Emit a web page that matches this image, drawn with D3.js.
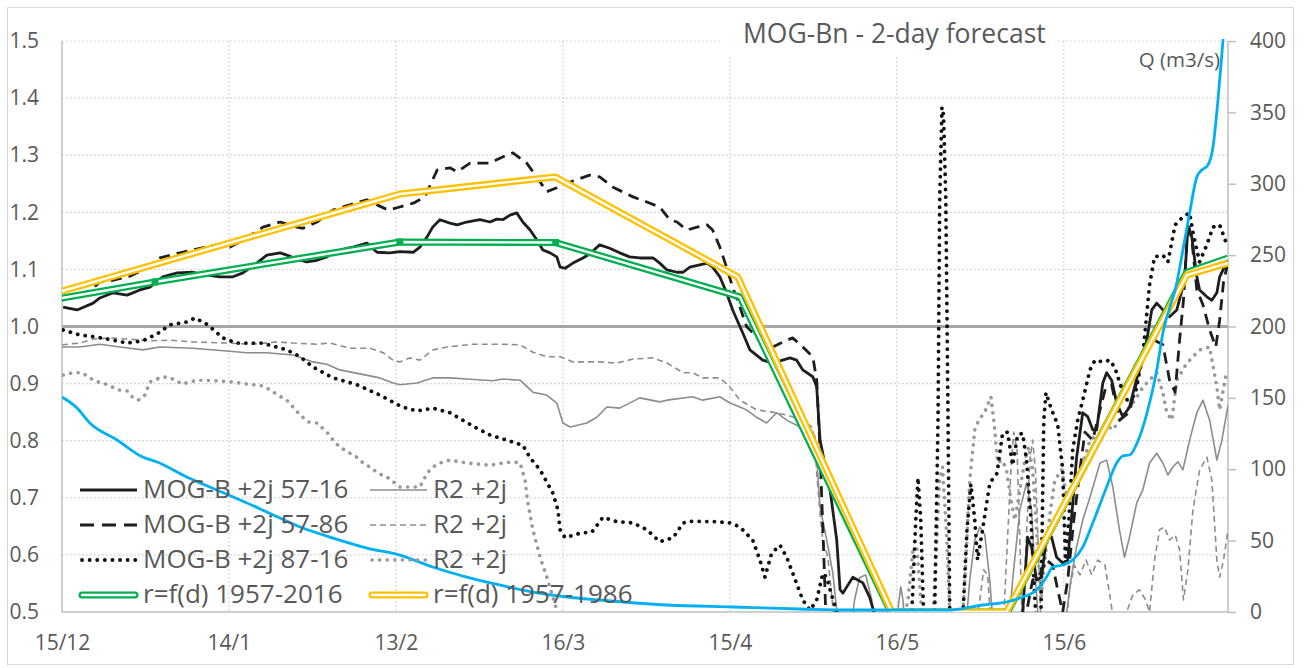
<!DOCTYPE html>
<html><head><meta charset="utf-8">
<script src="https://cdn.jsdelivr.net/npm/d3@7"></script>
<style>
body{margin:0;background:#fff;}
text{font-family:'Open Sans',sans-serif;fill:#595959;}
</style>
</head><body>
<svg id="chart" width="1305" height="668"></svg>
<script>
// ---------- data ----------
const titleText = "MOG-Bn - 2-day forecast";
const rightAxisTitle = "Q (m3/s)";
const xTickDays = [0, 30, 60, 90, 120, 150, 180];
const xTickLabels = ["15/12", "14/1", "13/2", "16/3", "15/4", "16/5", "15/6"];
const leftTicks = [0.5, 0.6, 0.7, 0.8, 0.9, 1.0, 1.1, 1.2, 1.3, 1.4, 1.5];
const rightTicks = [0, 50, 100, 150, 200, 250, 300, 350, 400];
const xDomain = [0, 209.5];

// [day since 15/12, ratio]
const mogB_57_16 = [[0.2,1.034],[2.7,1.029],[5.6,1.041],[6.8,1.050],[9.2,1.059],[11.7,1.055],[14.0,1.064],[15.8,1.069],[18.1,1.087],[20.7,1.094],[23.5,1.095],[26.0,1.090],[28.4,1.087],[30.7,1.087],[32.5,1.094],[35.0,1.111],[36.8,1.125],[39.2,1.129],[40.4,1.125],[42.8,1.116],[44.0,1.113],[45.8,1.116],[47.6,1.122],[48.7,1.130],[51.2,1.137],[52.3,1.139],[54.8,1.146],[56.6,1.130],[58.9,1.129],[60.7,1.131],[63.1,1.130],[64.3,1.139],[65.6,1.157],[66.6,1.174],[67.9,1.187],[69.7,1.181],[71.0,1.178],[72.7,1.183],[75.1,1.187],[76.9,1.183],[78.1,1.188],[79.2,1.187],[80.5,1.195],[81.7,1.199],[82.8,1.183],[84.1,1.169],[85.3,1.152],[86.4,1.134],[87.7,1.129],[88.9,1.122],[89.5,1.104],[90.4,1.102],[91.8,1.111],[93.6,1.120],[94.8,1.127],[96.6,1.143],[98.4,1.137],[100.2,1.129],[102.0,1.122],[103.8,1.120],[106.2,1.120],[107.4,1.111],[108.7,1.099],[110.5,1.095],[111.6,1.095],[112.8,1.104],[114.6,1.108],[115.9,1.111],[116.9,1.104],[118.2,1.087],[119.4,1.059],[120.5,1.029],[121.8,1.0],[122.3,0.989],[123.6,0.959],[125.9,0.941],[127.7,0.936],[130.8,0.945],[132.0,0.941],[133.1,0.924],[134.9,0.912],[135.6,0.894],[136.2,0.801],[138.0,0.714],[139.2,0.626],[139.8,0.539],[140.3,0.533],[141.0,0.544],[142.1,0.561],[143.9,0.551],[145.1,0.526],[146.6,0.477],[148,0.44],[171.5,0.44],[172.6,0.498],[173.5,0.631],[174.2,0.614],[175.1,0.556],[176.0,0.561],[176.9,0.631],[177.8,0.631],[178.7,0.596],[179.8,0.586],[180.7,0.591],[181.4,0.666],[182.3,0.771],[183.4,0.849],[184.3,0.842],[185.2,0.819],[185.9,0.819],[187.0,0.901],[187.7,0.919],[188.6,0.906],[189.5,0.866],[190.6,0.842],[191.8,0.859],[193.4,0.92],[194.9,0.976],[195.8,1.029],[196.7,1.041],[197.8,1.029],[199.0,1.017],[200.3,1.029],[201.7,1.081],[202.3,1.174],[203.0,1.157],[203.9,1.087],[204.4,1.064],[205.7,1.052],[206.6,1.046],[207.5,1.059],[208.0,1.087],[209.3,1.113]];

const mogB_57_86 = [[0,1.046],[2.3,1.053],[5.0,1.062],[6.8,1.078],[9.2,1.081],[12.2,1.088],[14.5,1.099],[17.6,1.120],[21.2,1.129],[24.8,1.137],[27.8,1.143],[30.2,1.139],[33.2,1.155],[36.1,1.174],[39.2,1.183],[42.2,1.174],[43.3,1.172],[45.8,1.183],[48.7,1.204],[51.7,1.213],[54.8,1.222],[56.6,1.213],[58.6,1.204],[60.2,1.208],[63.1,1.216],[65.2,1.227],[67.4,1.274],[69.7,1.278],[71.0,1.271],[73.3,1.286],[76.9,1.286],[78.1,1.292],[79.9,1.300],[81.0,1.304],[83.5,1.286],[85.3,1.262],[87.1,1.236],[88.9,1.243],[91.3,1.253],[94.8,1.265],[96.6,1.262],[99.0,1.244],[102.6,1.227],[105.1,1.218],[107.4,1.209],[109.2,1.187],[110.5,1.183],[112.3,1.169],[114.1,1.174],[115.9,1.178],[116.9,1.169],[118.2,1.139],[119.4,1.104],[120.5,1.069],[121.8,1.034],[123.0,1.0],[124.1,0.989],[125.9,0.982],[127.7,0.964],[130.2,0.976],[131.3,0.980],[133.1,0.964],[134.9,0.947],[135.6,0.906],[136.2,0.784],[136.9,0.591],[137.4,0.451],[143.3,0.416],[168.5,0.416],[172.4,0.451],[173.3,0.5],[174.4,0.556],[175.7,0.565],[176.9,0.591],[178.0,0.582],[178.9,0.539],[179.8,0.5],[180.7,0.556],[181.8,0.661],[182.9,0.749],[183.8,0.815],[185.2,0.801],[186.5,0.854],[187.5,0.892],[188.6,0.897],[190.0,0.836],[191.8,0.850],[193.6,0.924],[194.9,0.959],[196.3,0.976],[197.8,0.968],[199.0,0.906],[200.0,0.885],[200.8,0.976],[201.5,1.046],[202.3,1.183],[203.0,1.152],[203.9,1.064],[205.0,1.038],[206.2,0.994],[207.3,0.964],[208.0,1.011],[208.7,1.078],[209.5,1.113]];

const mogB_87_16 = [[0.2,0.994],[3.2,0.985],[5.9,0.982],[9.2,0.976],[11.7,0.971],[14.5,0.975],[17.1,0.987],[19.4,1.003],[22.5,1.008],[23.9,1.015],[26.2,1.003],[28.9,0.980],[31.4,0.971],[35.9,0.971],[40.4,0.959],[42.8,0.947],[45.1,0.929],[48.7,0.910],[53.0,0.898],[57.1,0.880],[61.1,0.859],[63.8,0.852],[66.6,0.857],[69.7,0.849],[72.0,0.836],[74.5,0.822],[76.9,0.810],[79.9,0.801],[82.8,0.792],[84.1,0.770],[85.9,0.749],[88.2,0.708],[89.1,0.679],[89.5,0.644],[90.4,0.630],[93.1,0.638],[95.2,0.640],[97.2,0.666],[99.7,0.658],[102.6,0.656],[105.1,0.644],[107.4,0.623],[109.8,0.630],[111.6,0.656],[113.3,0.659],[117.7,0.658],[120.0,0.656],[121.8,0.649],[124.1,0.626],[125.4,0.591],[126.3,0.561],[127.5,0.603],[129.0,0.617],[130.2,0.596],[131.3,0.568],[133.1,0.521],[134.4,0.503],[135.6,0.521],[136.7,0.568],[137.4,0.561],[138.0,0.539],[139.2,0.5],[140.6,0.45],[151.4,0.45],[152.7,0.5],[153.4,0.661],[153.8,0.735],[154.3,0.661],[154.8,0.5],[155.9,0.45],[156.8,0.5],[157.4,0.836],[157.7,1.222],[158.1,1.384],[158.4,1.370],[158.8,1.222],[159.2,0.836],[159.5,0.5],[160.4,0.45],[161.9,0.5],[162.6,0.644],[163.3,0.724],[164.0,0.661],[164.5,0.591],[165.4,0.644],[166.7,0.726],[168.0,0.743],[169.0,0.813],[169.9,0.815],[170.8,0.757],[171.7,0.810],[172.6,0.813],[173.3,0.766],[174.1,0.661],[174.8,0.521],[175.3,0.45],[175.9,0.5],[176.4,0.836],[176.8,0.884],[177.8,0.854],[178.9,0.828],[179.8,0.749],[180.3,0.591],[180.9,0.661],[181.6,0.784],[182.5,0.836],[183.4,0.871],[184.7,0.924],[185.6,0.941],[187.0,0.938],[188.3,0.941],[189.2,0.927],[190.2,0.897],[191.4,0.871],[192.8,0.880],[194.2,0.950],[195.4,1.073],[196.3,1.122],[197.8,1.125],[198.7,1.113],[200.0,1.178],[201.4,1.192],[202.6,1.199],[203.3,1.160],[204.4,1.113],[205.7,1.143],[206.8,1.174],[208.0,1.178],[209.3,1.143]];

const r2_a = [[0,0.964],[3.2,0.964],[6.8,0.969],[10.4,0.964],[14.5,0.959],[17.6,0.964],[23.5,0.962],[29.6,0.957],[33.2,0.954],[36.8,0.954],[41.5,0.950],[45.1,0.938],[47.6,0.934],[49.9,0.924],[53.5,0.917],[57.1,0.910],[59.5,0.901],[60.7,0.898],[63.8,0.901],[66.6,0.910],[69.7,0.910],[72.7,0.908],[77.4,0.905],[79.2,0.908],[82.3,0.906],[84.6,0.885],[87.1,0.880],[88.9,0.866],[90.0,0.831],[91.3,0.824],[94.3,0.831],[96.1,0.841],[97.9,0.859],[100.2,0.857],[103.8,0.875],[107.4,0.868],[108.7,0.871],[113.3,0.877],[115.1,0.871],[118.2,0.877],[120.0,0.866],[121.8,0.859],[123.0,0.854],[124.8,0.841],[126.6,0.831],[128.4,0.849],[130.2,0.836],[132.6,0.824],[134.4,0.822],[135.3,0.807],[135.6,0.771],[136.2,0.684],[137.4,0.626],[138.5,0.568],[139.2,0.503],[139.8,0.45],[141.5,0.45],[142.4,0.521],[143.3,0.560],[144.4,0.565],[145.5,0.521],[146.2,0.45],[149.6,0.45],[150.4,0.521],[150.7,0.544],[151.1,0.521],[151.6,0.45],[162.2,0.45],[163.1,0.556],[164.0,0.626],[164.9,0.649],[165.8,0.635],[166.7,0.556],[167.5,0.45],[169.9,0.45],[170.8,0.556],[172.1,0.679],[173.3,0.726],[174.2,0.679],[174.9,0.556],[175.7,0.45],[179.6,0.45],[180.5,0.498],[181.4,0.565],[182.3,0.614],[183.4,0.661],[184.7,0.701],[186.5,0.761],[187.7,0.766],[188.8,0.719],[190.0,0.644],[190.9,0.596],[191.8,0.631],[193.1,0.691],[194.2,0.714],[195.4,0.761],[196.7,0.778],[197.8,0.761],[198.7,0.740],[199.6,0.754],[200.5,0.763],[201.4,0.749],[202.6,0.801],[203.9,0.849],[205.0,0.871],[206.2,0.836],[207.5,0.766],[208.4,0.801],[209.5,0.862]];

const r2_b = [[0,0.968],[3.2,0.971],[5.6,0.978],[8.6,0.980],[11.7,0.978],[15.8,0.975],[19.4,0.976],[23.5,0.973],[29.6,0.971],[34.3,0.969],[38.6,0.973],[41.5,0.971],[45.8,0.969],[48.1,0.971],[51.7,0.962],[55.3,0.962],[57.7,0.954],[59.5,0.941],[60.7,0.938],[62.5,0.945],[64.3,0.941],[66.6,0.959],[69.2,0.964],[73.8,0.969],[78.7,0.969],[82.3,0.968],[84.6,0.955],[87.1,0.947],[89.5,0.947],[91.8,0.938],[96.6,0.938],[99.7,0.936],[102.6,0.943],[106.2,0.945],[108.7,0.936],[111.6,0.919],[113.3,0.919],[115.1,0.910],[118.2,0.910],[120.0,0.894],[121.8,0.871],[124.8,0.854],[127.7,0.850],[130.2,0.845],[133.1,0.836],[134.7,0.824],[135.3,0.801],[135.6,0.743],[136.2,0.673],[136.7,0.626],[137.6,0.596],[138.5,0.509],[139.0,0.45],[164.0,0.45],[164.9,0.521],[165.6,0.574],[166.3,0.565],[167.1,0.45],[169.0,0.45],[169.7,0.591],[170.5,0.749],[171.0,0.815],[171.6,0.784],[172.1,0.626],[172.6,0.45],[173.1,0.591],[173.9,0.766],[174.4,0.801],[174.9,0.749],[175.5,0.591],[176.0,0.45],[180.3,0.45],[181.0,0.539],[181.9,0.582],[182.9,0.565],[184.0,0.591],[185.0,0.565],[186.1,0.591],[187.4,0.582],[188.4,0.521],[189.2,0.468],[190.0,0.45],[191.3,0.5],[192.4,0.530],[193.6,0.539],[194.7,0.521],[195.4,0.5],[196.3,0.591],[197.2,0.644],[198.1,0.649],[199.0,0.626],[200.0,0.635],[200.8,0.609],[201.5,0.521],[202.3,0.574],[203.2,0.679],[204.4,0.749],[205.7,0.771],[206.6,0.731],[207.5,0.591],[208.0,0.561],[208.7,0.591],[209.5,0.644]];

const r2_c = [[0.2,0.915],[2.0,0.919],[3.6,0.919],[5.0,0.910],[6.3,0.903],[7.4,0.901],[9.0,0.894],[10.1,0.889],[11.7,0.887],[12.6,0.877],[13.7,0.871],[14.9,0.880],[15.8,0.903],[17.6,0.910],[19.0,0.912],[20.3,0.906],[21.6,0.899],[23.0,0.903],[24.4,0.906],[27.5,0.905],[30.5,0.903],[33.4,0.899],[36.1,0.896],[37.4,0.889],[38.8,0.880],[40.4,0.871],[41.5,0.859],[42.8,0.845],[44.2,0.833],[45.8,0.831],[47.6,0.815],[48.7,0.801],[49.9,0.789],[51.4,0.780],[53.0,0.771],[54.1,0.761],[55.3,0.754],[56.8,0.743],[58.6,0.735],[60.7,0.719],[64.3,0.719],[65.6,0.743],[66.6,0.754],[68.4,0.763],[69.7,0.766],[72.7,0.761],[76.9,0.757],[79.2,0.761],[81.0,0.763],[82.3,0.761],[83.2,0.731],[83.7,0.691],[84.6,0.644],[85.9,0.596],[87.1,0.561],[88.2,0.526],[88.9,0.503],[89.5,0.45],[150.5,0.45],[152.0,0.521],[152.9,0.609],[153.6,0.612],[154.3,0.521],[155.0,0.45],[156.3,0.45],[157.0,0.591],[157.7,0.731],[158.2,0.754],[158.9,0.644],[159.7,0.45],[161.6,0.45],[162.4,0.591],[163.1,0.731],[164.0,0.819],[164.7,0.836],[165.8,0.850],[166.9,0.877],[167.6,0.819],[168.1,0.761],[168.9,0.766],[169.7,0.749],[170.5,0.696],[171.2,0.661],[172.1,0.714],[173.0,0.766],[173.7,0.789],[174.4,0.749],[175.1,0.644],[175.9,0.521],[176.6,0.591],[177.6,0.679],[178.4,0.731],[179.6,0.749],[180.7,0.696],[181.8,0.714],[182.9,0.743],[184.7,0.801],[186.5,0.813],[187.7,0.827],[188.8,0.819],[190.0,0.836],[191.4,0.854],[192.8,0.871],[194.2,0.894],[195.4,0.906],[196.7,0.919],[197.8,0.884],[198.5,0.849],[199.4,0.836],[200.3,0.906],[202.1,0.936],[204.4,0.959],[206.2,0.964],[207.5,0.894],[208.0,0.854],[209.3,0.924]];

const rfd_57_16 = [[0,1.050],[16.7,1.078],[60.7,1.148],[88.7,1.147],[121.8,1.052],[148.9,0.5],[169.9,0.5],[202.1,1.095],[209.5,1.120]];
const rfd_57_86 = [[0,1.062],[60.7,1.232],[88.6,1.262],[121.4,1.087],[149.1,0.5],[169.7,0.5],[202.1,1.090],[209.5,1.111]];
const rfdMarkerDays = [16.7, 60.7, 88.7];

// [day, Q m3/s]
const flowQ = [[0,150.6],[2.7,142.9],[5.0,132.4],[9.9,120.5],[14.5,108.6],[17.1,105.1],[22.4,94.6],[27.8,85.5],[32.0,78.5],[36.8,70.1],[42.8,59.5],[48.7,51.8],[54.8,44.8],[60.7,39.9],[66.6,31.5],[72.7,24.5],[78.7,18.9],[84.6,14.0],[90.7,10.5],[96.6,8.4],[108.7,4.9],[120.5,3.5],[132.6,2.1],[141.5,1.4],[159.5,1.4],[165.4,4.9],[169.7,7.0],[172.6,10.5],[175.1,15.4],[176.9,24.5],[178.0,31.5],[179.8,32.9],[181.6,36.4],[183.4,45.5],[185.2,62.3],[187.7,87.6],[189.5,104.4],[190.6,109.3],[191.8,110.0],[193.6,122.6],[195.4,146.4],[196.7,169.5],[197.8,195.4],[200.3,230.5],[201.4,253.6],[202.6,279.5],[203.9,304.7],[204.8,309.6],[205.9,313.1],[206.8,325.7],[207.7,358.7],[208.6,400.7],[209.5,445]];

const legendLabels = ["MOG-B +2j 57-16","R2 +2j","MOG-B +2j 57-86","R2 +2j","MOG-B +2j 87-16","R2 +2j","r=f(d) 1957-2016","r=f(d) 1957-1986"];

// ---------- layout ----------
const svg = d3.select("#chart");
const L = 62, R = 1228, T = 41, B = 612;
const x = d3.scaleLinear().domain(xDomain).range([L, R]);
const y = d3.scaleLinear().domain([0.5, 1.5]).range([B, T]);
const yQ = d3.scaleLinear().domain([0, 400]).range([B, T]);

svg.append("rect").attr("x",7.5).attr("y",7.5).attr("width",1286).attr("height",657)
  .attr("fill","#fff").attr("stroke","#d9d9d9").attr("stroke-width",1);

svg.append("defs").append("clipPath").attr("id","plot")
  .append("rect").attr("x",L).attr("y",T-2).attr("width",R-L).attr("height",B-T+2);

// gridlines
const grid = svg.append("g");
leftTicks.filter(v => v > 0.5 && Math.abs(v-1) > 1e-9).forEach(v => {
  grid.append("line").attr("x1",L).attr("x2",R).attr("y1",y(v)).attr("y2",y(v))
    .attr("stroke","#c9c9c9").attr("stroke-width",1.2).attr("stroke-dasharray","1.5,2.5");
});
xTickDays.filter(d => d > 0).forEach(d => {
  grid.append("line").attr("x1",x(d)).attr("x2",x(d)).attr("y1",T).attr("y2",B)
    .attr("stroke","#c9c9c9").attr("stroke-width",1.2).attr("stroke-dasharray","1.5,2.5");
});
// title background
svg.append("rect").attr("x",720).attr("y",12).attr("width",335).attr("height",44).attr("fill","#fff");

// reference 1.0 line
svg.append("line").attr("x1",L).attr("x2",R).attr("y1",y(1)).attr("y2",y(1))
  .attr("stroke","#a6a6a6").attr("stroke-width",3);

// axes
const axL = svg.append("g").attr("transform",`translate(${L},0)`)
  .call(d3.axisLeft(y).tickValues(leftTicks).tickFormat(d3.format(".1f")).tickSize(0).tickPadding(23));
const axR = svg.append("g").attr("transform",`translate(${R},0)`)
  .call(d3.axisRight(yQ).tickValues(rightTicks).tickSize(8).tickPadding(15));
const axB = svg.append("g").attr("transform",`translate(0,${B})`)
  .call(d3.axisBottom(x).tickValues(xTickDays).tickFormat((d,i) => xTickLabels[i]).tickSize(0).tickPadding(23));
[axL, axR, axB].forEach(g => {
  g.select(".domain").attr("stroke","#bfbfbf").attr("stroke-width",1.5);
  g.selectAll(".tick line").attr("stroke","#bfbfbf").attr("stroke-width",1.5);
  g.selectAll("text").attr("font-size",21).attr("fill","#595959").attr("font-family","'Open Sans',sans-serif");
});
axR.select(".domain").attr("d", `M0,${T}V${B}`);
axL.select(".domain").attr("d", `M0,${T}V${B}`);
axB.select(".domain").attr("d", `M${L},0H${R}`);
axR.selectAll("text").attr("x", 22).attr("text-anchor","start");

// ---------- series ----------
const plot = svg.append("g").attr("clip-path","url(#plot)");
const lineR = d3.line().x(d => x(d[0])).y(d => y(d[1]));
const lineQ = d3.line().x(d => x(d[0])).y(d => yQ(d[1])).curve(d3.curveMonotoneX);

const styles = {
  r2a: {stroke:"#8c8c8c", width:1.6, dash:null, cap:"butt"},
  r2b: {stroke:"#8c8c8c", width:1.6, dash:"6,4", cap:"butt"},
  r2c: {stroke:"#999999", width:3.6, dash:"0.1,7.5", cap:"round"},
  m1: {stroke:"#1e1e1e", width:2.8, dash:null, cap:"butt"},
  m2: {stroke:"#1e1e1e", width:2.8, dash:"11,7", cap:"butt"},
  m3: {stroke:"#111111", width:3.8, dash:"0.1,7.5", cap:"round"}
};
function drawLine(data, st) {
  plot.append("path").datum(data).attr("d", lineR).attr("fill","none")
    .attr("stroke", st.stroke).attr("stroke-width", st.width)
    .attr("stroke-dasharray", st.dash).attr("stroke-linecap", st.cap).attr("stroke-linejoin","round");
}
drawLine(r2_a, styles.r2a);
drawLine(r2_b, styles.r2b);
drawLine(r2_c, styles.r2c);
drawLine(mogB_87_16, styles.m3);
drawLine(mogB_57_86, styles.m2);
drawLine(mogB_57_16, styles.m1);

function drawDouble(data, color) {
  plot.append("path").datum(data).attr("d", lineR).attr("fill","none")
    .attr("stroke", color).attr("stroke-width", 7).attr("stroke-linejoin","round");
  plot.append("path").datum(data).attr("d", lineR).attr("fill","none")
    .attr("stroke", "#fff").attr("stroke-width", 2.4).attr("stroke-linejoin","round");
}
drawDouble(rfd_57_16, "#00b050");
rfdMarkerDays.forEach(d => {
  const p = rfd_57_16.find(q => q[0] === d);
  plot.append("rect").attr("x", x(p[0]) - 3.5).attr("y", y(p[1]) - 3.5).attr("width", 7).attr("height", 7)
    .attr("fill", "#00b050");
});
drawDouble(rfd_57_86, "#ffc000");

plot.append("path").datum(flowQ).attr("d", lineQ).attr("fill","none")
  .attr("stroke","#00b0f0").attr("stroke-width",2.8);

// ---------- titles ----------
svg.append("text").attr("x",743).attr("y",43).attr("font-size",26.5).text(titleText);
svg.append("text").attr("x",1220).attr("y",67).attr("font-size",20.5).attr("text-anchor","end").text(rightAxisTitle);

// ---------- legend ----------
const legKeys = ["m1","r2a","m2","r2b","m3","r2c","g","o"];
const leg = svg.append("g");
legKeys.forEach((k, i) => {
  const col = i % 2, row = Math.floor(i / 2);
  const lx = col === 0 ? 80 : 370;
  const base = 498 + row * 35;
  const ly = base - 8;
  if (k === "g" || k === "o") {
    const c = k === "g" ? "#00b050" : "#ffc000";
    leg.append("line").attr("x1", lx + 2).attr("x2", lx + 55).attr("y1", ly).attr("y2", ly)
      .attr("stroke", c).attr("stroke-width", 7).attr("stroke-linecap","round");
    leg.append("line").attr("x1", lx + 2).attr("x2", lx + 55).attr("y1", ly).attr("y2", ly)
      .attr("stroke", "#fff").attr("stroke-width", 2.4).attr("stroke-linecap","round");
  } else {
    const st = styles[k];
    leg.append("line").attr("x1", lx + (st.cap === "round" ? 2 : 0)).attr("x2", lx + 57).attr("y1", ly).attr("y2", ly)
      .attr("stroke", st.stroke).attr("stroke-width", st.width)
      .attr("stroke-dasharray", st.dash === "11,7" ? "14,8" : st.dash).attr("stroke-linecap", st.cap);
  }
  leg.append("text").attr("x", lx + 63).attr("y", base).attr("font-size", 26).text(legendLabels[i]);
});
</script>
</body></html>
